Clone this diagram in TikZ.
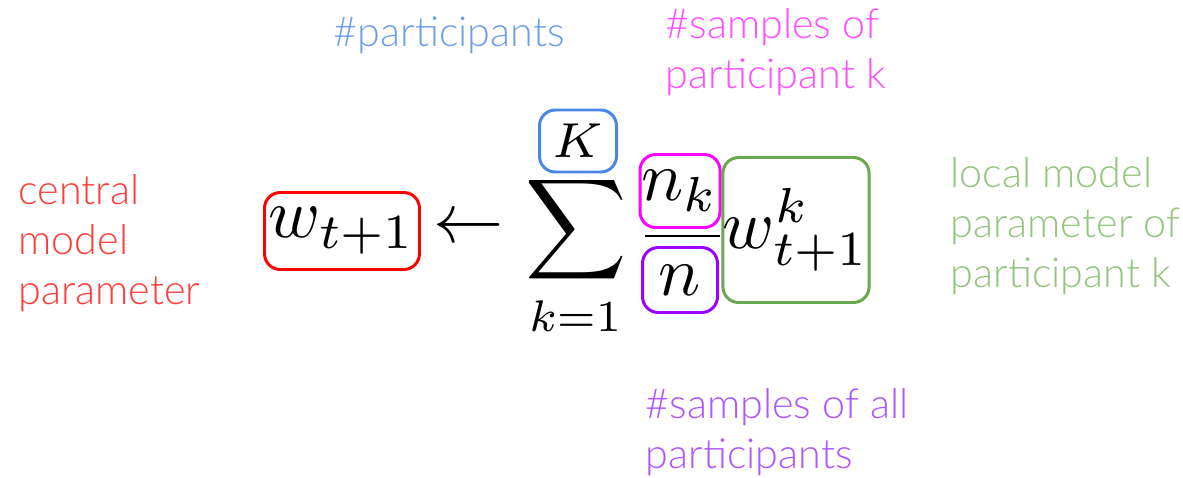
\documentclass[tikz,border=0pt]{standalone}
\usepackage{graphicx}
\usepackage{fontspec}
\setmainfont{Lato Light}
\usetikzlibrary{positioning}
\definecolor{redbox}{HTML}{FF0000}
\definecolor{redtext}{HTML}{FF3B3B}
\definecolor{bluebox}{HTML}{4A86E8}
\definecolor{bluetext}{HTML}{6D9EEB}
\definecolor{magbox}{HTML}{FF00FF}
\definecolor{magtext}{HTML}{FF4DFF}
\definecolor{purpbox}{HTML}{9900FF}
\definecolor{purptext}{HTML}{AD55FF}
\definecolor{greenbox}{HTML}{6AA84F}
\definecolor{greentext}{HTML}{93C47D}
\newcommand{\eqpart}[2][4]{\scalebox{#1}{$#2$}}
\tikzset{every picture/.style={line width=0.75pt}}
\tikzset{
  mathbox/.style={draw=#1, rounded corners=9pt, line width=1.7pt, inner sep=0pt, text=black},
  note/.style={anchor=west, align=left, inner sep=0pt, font=\fontsize{23.5}{28.5}\selectfont}
}

\begin{document}
\begin{tikzpicture}[x=0.02cm, y=-0.02cm]
    \useasboundingbox (0,0) rectangle (1183,477);

    % === formula ===
    \node[mathbox=redbox, minimum width=155*0.02cm, minimum height=77*0.02cm] (wt) at (342,231) {\eqpart{w_{t+1}}};
    \node[inner sep=0pt] (arr) at (469,230) {\eqpart{\leftarrow}};
    \node[inner sep=0pt] (sum) at (576,230) {\eqpart{\displaystyle\sum}};
    \node[mathbox=bluebox, minimum width=77*0.02cm, minimum height=62*0.02cm] (K) at (578,141) {\eqpart{\scriptstyle K}};
    \node[inner sep=0pt] (low) at (575,316) {\eqpart[3.6]{\scriptstyle k=1}};

    % fraction
    \node[mathbox=magbox, minimum width=80*0.02cm, minimum height=73*0.02cm] (nk) at (680,191) {\eqpart{n_k}};
    \node[mathbox=purpbox, minimum width=75*0.02cm, minimum height=65*0.02cm] (n) at (680,280) {\eqpart{n}};
    \coordinate (barl) at (645,236);
    \coordinate (barr) at (720,236);
    \draw[line width=1.6pt] (barl) -- (barr);

    % local parameter
    \node[mathbox=greenbox, minimum width=144*0.02cm, minimum height=145*0.02cm] (wk) at (796,230) {\eqpart{w^k_{t+1}}};

    % === labels ===
    \node[note, text=bluetext] (lblK) at (333,35) {\#participants};
    \node[note, text=magtext] (lblnk) at (665,52) {\#samples of\\participant k};
    \node[note, text=redtext] (lblwt) at (18,243) {central\\model\\parameter};
    \node[note, text=greentext] (lblwk) at (950,226) {local model\\parameter of\\participant k};
    \node[note, text=purptext] (lbln) at (645,432) {\#samples of all\\participants};
\end{tikzpicture}
\end{document}
